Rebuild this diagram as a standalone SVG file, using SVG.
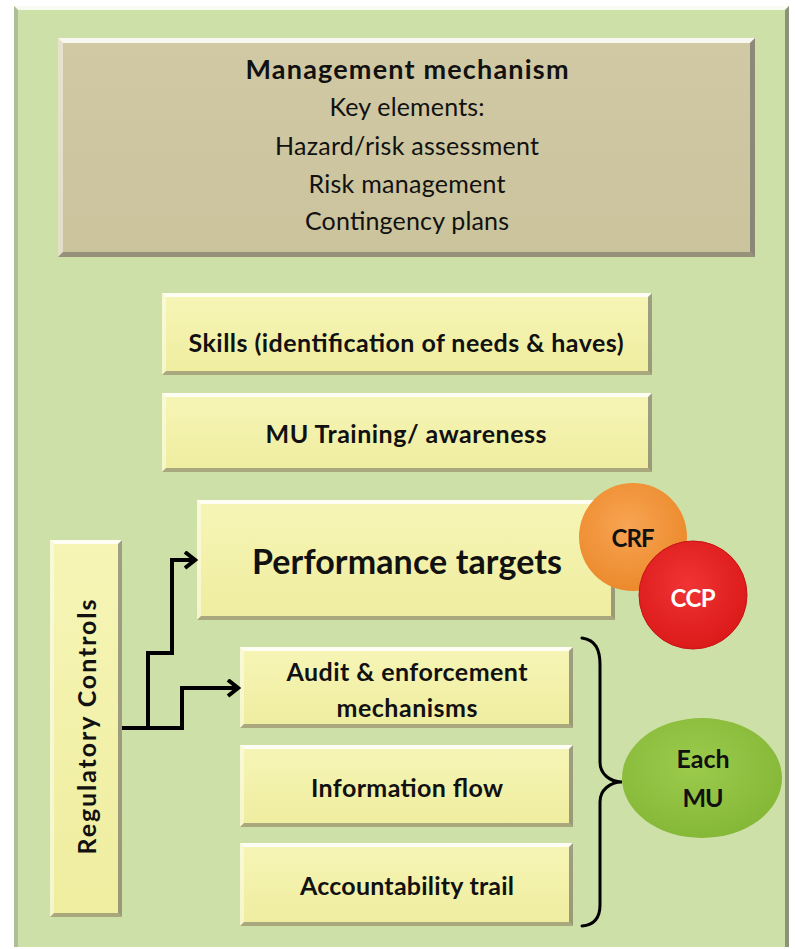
<svg xmlns="http://www.w3.org/2000/svg" width="795" height="949" viewBox="0 0 795 949">
  <style>
    text { font-family: Lato, "Open Sans", "Liberation Sans", sans-serif; fill: #111; }
    .b { font-weight: bold; }
    .bt { fill: #ffffff; opacity: 0.85; }
    .bl { fill: #ffffff; opacity: 0.45; }
    .br { fill: #555; opacity: 0.55; }
    .bb { fill: #555; opacity: 0.45; }
    .wire { fill: none; stroke: #000; stroke-width: 4; stroke-linejoin: miter; }
    .arrow { fill: none; stroke: #000; stroke-width: 4; marker-end: url(#chev); }
    .brace { fill: none; stroke: #000; stroke-width: 3; stroke-linecap: round; }
  </style>
  <defs>
    <linearGradient id="gYellow" x1="0" y1="0" x2="0" y2="1">
      <stop offset="0" stop-color="#f6f5b6"/>
      <stop offset="1" stop-color="#efed9f"/>
    </linearGradient>
    <linearGradient id="gKhaki" x1="0" y1="0" x2="0" y2="1">
      <stop offset="0" stop-color="#d1c9a4"/>
      <stop offset="1" stop-color="#cbc39c"/>
    </linearGradient>
    <radialGradient id="gOrange" cx="0.45" cy="0.4" r="0.6">
      <stop offset="0" stop-color="#f8a453"/>
      <stop offset="1" stop-color="#ec8a2c"/>
    </radialGradient>
    <radialGradient id="gRed" cx="0.45" cy="0.4" r="0.6">
      <stop offset="0" stop-color="#f03434"/>
      <stop offset="1" stop-color="#dc1a1a"/>
    </radialGradient>
    <radialGradient id="gGreen" cx="0.45" cy="0.4" r="0.6">
      <stop offset="0" stop-color="#9ccb4c"/>
      <stop offset="1" stop-color="#86b838"/>
    </radialGradient>
    <marker id="chev" markerUnits="userSpaceOnUse" markerWidth="16" markerHeight="20" refX="13" refY="9" orient="auto">
      <path d="M3,1 L13,9 L3,17" fill="none" stroke="#000" stroke-width="4"/>
    </marker>
  </defs>

  <!-- page -->
  <rect x="0" y="0" width="795" height="949" fill="#ffffff"/>

  <!-- outer green panel -->
  <g id="panel">
    <rect x="14" y="6" width="775" height="941" fill="#cde0a7"/>
    <polygon class="bt" points="14,6 789,6 785,10 18,10"/>
    <polygon points="14,6 18,10 18,947 14,947" fill="#9aa68a" opacity="0.6"/>
    <polygon class="br" points="789,6 789,947 785,947 785,10"/>
  </g>

  <!-- management mechanism -->
  <g id="management">
    <rect x="58" y="38" width="697" height="219" fill="url(#gKhaki)"/>
    <polygon class="bt" points="58,38 755,38 750,43 63,43"/>
    <polygon class="bl" points="58,38 63,43 63,252 58,257"/>
    <polygon class="br" points="755,38 755,257 750,252 750,43"/>
    <polygon class="bb" points="58,257 755,257 750,252 63,252"/>
    <text class="b" x="407" y="79" font-size="27" text-anchor="middle" textLength="323">Management mechanism</text>
    <text x="407" y="116" font-size="25" text-anchor="middle" textLength="155">Key elements:</text>
    <text x="407" y="155" font-size="25" text-anchor="middle" textLength="264">Hazard/risk assessment</text>
    <text x="407" y="193" font-size="25" text-anchor="middle" textLength="197">Risk management</text>
    <text x="407" y="230" font-size="25" text-anchor="middle" textLength="204">Contingency plans</text>
  </g>

  <!-- skills -->
  <g id="skills">
    <rect x="162" y="293" width="490" height="82" fill="url(#gYellow)"/>
    <polygon class="bt" points="162,293 652,293 648,297 166,297"/>
    <polygon class="bl" points="162,293 166,297 166,371 162,375"/>
    <polygon class="br" points="652,293 652,375 648,371 648,297"/>
    <polygon class="bb" points="162,375 652,375 648,371 166,371"/>
    <text class="b" x="406" y="352" font-size="25" text-anchor="middle" textLength="435">Skills (identification of needs &amp; haves)</text>
  </g>

  <!-- training -->
  <g id="training">
    <rect x="162" y="393" width="490" height="79" fill="url(#gYellow)"/>
    <polygon class="bt" points="162,393 652,393 648,397 166,397"/>
    <polygon class="bl" points="162,393 166,397 166,468 162,472"/>
    <polygon class="br" points="652,393 652,472 648,468 648,397"/>
    <polygon class="bb" points="162,472 652,472 648,468 166,468"/>
    <text class="b" x="406" y="443" font-size="25" text-anchor="middle" textLength="281">MU Training/ awareness</text>
  </g>

  <!-- performance targets -->
  <g id="performance">
    <rect x="197" y="500" width="418" height="120" fill="url(#gYellow)"/>
    <polygon class="bt" points="197,500 615,500 611,504 201,504"/>
    <polygon class="bl" points="197,500 201,504 201,616 197,620"/>
    <polygon class="br" points="615,500 615,620 611,616 611,504"/>
    <polygon class="bb" points="197,620 615,620 611,616 201,616"/>
    <text class="b" x="407" y="574" font-size="34" text-anchor="middle" textLength="310">Performance targets</text>
  </g>

  <!-- regulatory controls -->
  <g id="regulatory">
    <rect x="50" y="540" width="72" height="377" fill="url(#gYellow)"/>
    <polygon class="bt" points="50,540 122,540 118,544 54,544"/>
    <polygon class="bl" points="50,540 54,544 54,913 50,917"/>
    <polygon class="br" points="122,540 122,917 118,913 118,544"/>
    <polygon class="bb" points="50,917 122,917 118,913 54,913"/>
    <text class="b" x="0" y="0" font-size="25" text-anchor="middle" textLength="255" transform="translate(96,727) rotate(-90)">Regulatory Controls</text>
  </g>

  <!-- audit -->
  <g id="audit">
    <rect x="240" y="647" width="333" height="81" fill="url(#gYellow)"/>
    <polygon class="bt" points="240,647 573,647 569,651 244,651"/>
    <polygon class="bl" points="240,647 244,651 244,724 240,728"/>
    <polygon class="br" points="573,647 573,728 569,724 569,651"/>
    <polygon class="bb" points="240,728 573,728 569,724 244,724"/>
    <text class="b" x="407" y="681" font-size="25" text-anchor="middle" textLength="241">Audit &amp; enforcement</text>
    <text class="b" x="407" y="717" font-size="25" text-anchor="middle" textLength="141">mechanisms</text>
  </g>

  <!-- information flow -->
  <g id="information">
    <rect x="240" y="745" width="333" height="82" fill="url(#gYellow)"/>
    <polygon class="bt" points="240,745 573,745 569,749 244,749"/>
    <polygon class="bl" points="240,745 244,749 244,823 240,827"/>
    <polygon class="br" points="573,745 573,827 569,823 569,749"/>
    <polygon class="bb" points="240,827 573,827 569,823 244,823"/>
    <text class="b" x="407" y="797" font-size="25" text-anchor="middle" textLength="192">Information flow</text>
  </g>

  <!-- accountability trail -->
  <g id="accountability">
    <rect x="240" y="843" width="333" height="83" fill="url(#gYellow)"/>
    <polygon class="bt" points="240,843 573,843 569,847 244,847"/>
    <polygon class="bl" points="240,843 244,847 244,922 240,926"/>
    <polygon class="br" points="573,843 573,926 569,922 569,847"/>
    <polygon class="bb" points="240,926 573,926 569,922 244,922"/>
    <text class="b" x="407" y="895" font-size="25" text-anchor="middle" textLength="214">Accountability trail</text>
  </g>

  <!-- CRF / CCP badges -->
  <g id="crf">
    <circle cx="633" cy="537" r="54" fill="url(#gOrange)"/>
    <text class="b" x="633" y="547" font-size="24" text-anchor="middle" textLength="43">CRF</text>
  </g>
  <g id="ccp">
    <circle cx="693" cy="595" r="54" fill="url(#gRed)" stroke="#c81414" stroke-width="1"/>
    <text class="b" x="693" y="607" font-size="24" text-anchor="middle" textLength="45" style="fill:#ffffff">CCP</text>
  </g>

  <!-- each MU -->
  <g id="each-mu">
    <ellipse cx="702" cy="778" rx="80" ry="60" fill="url(#gGreen)"/>
    <text class="b" x="703" y="768" font-size="25" text-anchor="middle" textLength="53">Each</text>
    <text class="b" x="703" y="807" font-size="25" text-anchor="middle" textLength="41">MU</text>
  </g>

  <!-- connectors -->
  <g id="connectors">
    <path class="wire" d="M122,728 H184"/>
    <path class="arrow" d="M148,730 V653 H172 V560 H195"/>
    <path class="arrow" d="M182,730 V688 H238"/>
    <path class="brace" d="M582,638 C596,640 600,650 600,665 L600,762 C600,774 610,782 622,782 C610,782 600,790 600,802 L600,905 C600,918 594,925 582,926"/>
  </g>
</svg>
